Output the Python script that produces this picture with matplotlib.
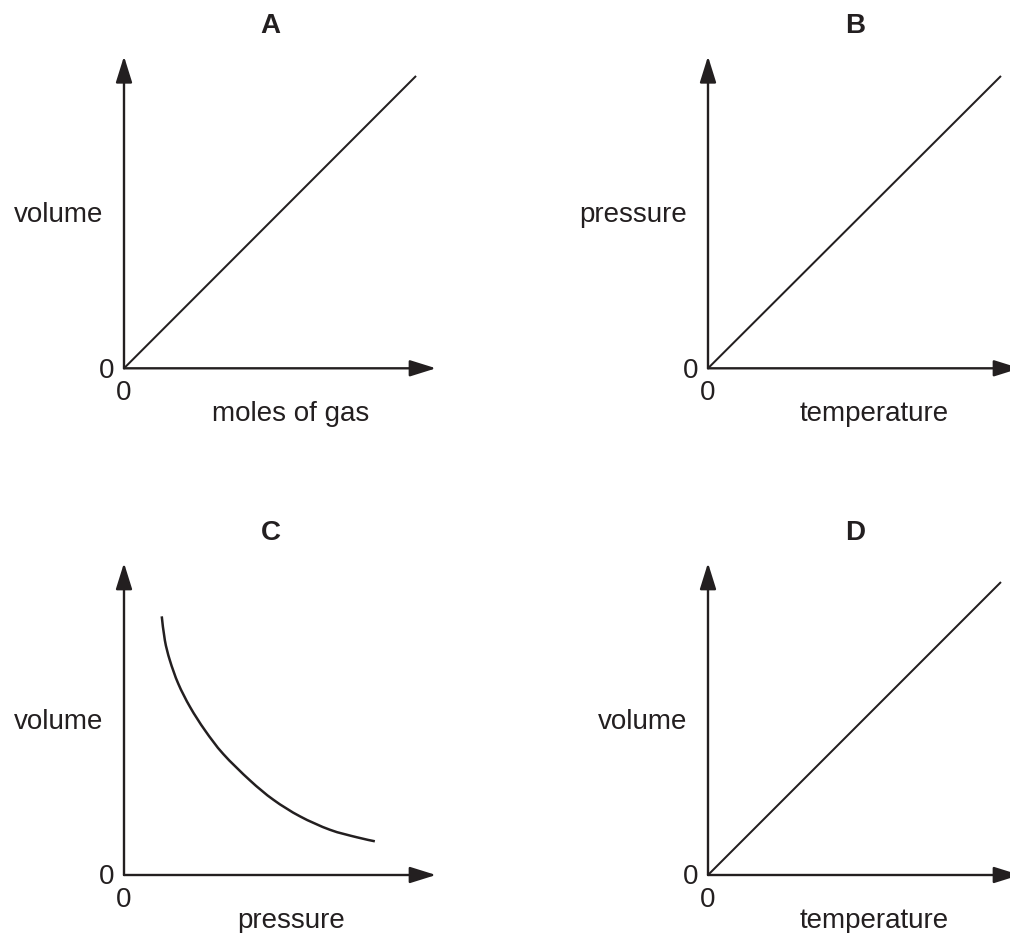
import matplotlib
matplotlib.use("Agg")
import matplotlib.pyplot as plt
from matplotlib.path import Path
from matplotlib.patches import PathPatch

plt.rcParams['font.family'] = ['Liberation Sans', 'DejaVu Sans']

INK = '#231f20'

# ---- data (axis units: 0..10 up to the arrow tips) ----
titles = ['A', 'B', 'C', 'D']
y_labels = ['volume', 'pressure', 'volume', 'volume']
x_labels = ['moles of gas', 'temperature', 'pressure', 'temperature']

a_x = [0.0, 9.36]
a_y = [0.0, 9.37]

b_x = [0.0, 9.39]
b_y = [0.0, 9.37]

c_x = [1.21, 1.31, 1.47, 1.74, 2.12, 2.60, 3.18, 4.04, 4.79, 5.64, 6.60, 7.46, 8.04]
c_y = [8.29, 7.52, 6.88, 6.13, 5.38, 4.63, 3.88, 3.03, 2.41, 1.88, 1.45, 1.21, 1.08]

d_x = [0.0, 9.39]
d_y = [0.0, 9.39]

series = [(a_x, a_y, 1.45, False), (b_x, b_y, 1.45, False),
          (c_x, c_y, 1.8, True), (d_x, d_y, 1.45, False)]


def smooth_path(xs, ys):
    """Catmull-Rom through the given points, expressed as cubic Bezier path."""
    pts = list(zip(xs, ys))
    verts = [pts[0]]
    codes = [Path.MOVETO]
    n = len(pts)
    for k in range(n - 1):
        p0 = pts[k - 1] if k > 0 else pts[k]
        p1 = pts[k]
        p2 = pts[k + 1]
        p3 = pts[k + 2] if k + 2 < n else pts[k + 1]
        c1 = (p1[0] + (p2[0] - p0[0]) / 6.0, p1[1] + (p2[1] - p0[1]) / 6.0)
        c2 = (p2[0] - (p3[0] - p1[0]) / 6.0, p2[1] - (p3[1] - p1[1]) / 6.0)
        verts += [c1, c2, p2]
        codes += [Path.CURVE4] * 3
    return Path(verts, codes)


W, H = 1010, 933
fig = plt.figure(figsize=(W / 100, H / 100), dpi=100)

origins = [(124, 368.3), (708, 368.3), (124, 875), (708, 875)]
size = 312
FS = 20

for i, (ox, oy) in enumerate(origins):
    ax = fig.add_axes([ox / W, (H - oy) / H, size / W, size / H])
    ax.set_xlim(0, 10)
    ax.set_ylim(0, 10)
    ax.axis('off')

    # axes with arrows
    aprops = dict(arrowstyle='-|>,head_length=16,head_width=5',
                  mutation_scale=1, color=INK, lw=1.7,
                  shrinkA=0, shrinkB=0)
    ax.annotate('', xy=(1, 0), xytext=(0, 0), xycoords='axes fraction',
                textcoords='axes fraction', arrowprops=aprops,
                annotation_clip=False)
    ax.annotate('', xy=(0, 1), xytext=(0, 0), xycoords='axes fraction',
                textcoords='axes fraction', arrowprops=aprops,
                annotation_clip=False)

    xs, ys, lw, curved = series[i]
    if curved:
        ax.add_patch(PathPatch(smooth_path(xs, ys), facecolor='none',
                               edgecolor=INK, lw=lw, capstyle='butt',
                               clip_on=False))
    else:
        ax.plot(xs, ys, color=INK, lw=lw, solid_capstyle='butt', clip_on=False)

    tr = ax.transAxes
    ax.text(0.470, 1.075, titles[i], transform=tr, ha='center', va='baseline',
            fontsize=FS, fontweight='bold', color=INK)
    ax.text(-0.066, 0.468, y_labels[i], transform=tr, ha='right', va='baseline',
            fontsize=FS, color=INK)
    ax.text(0.534, -0.170, x_labels[i], transform=tr, ha='center', va='baseline',
            fontsize=FS, color=INK)
    ax.text(-0.055, -0.030, '0', transform=tr, ha='center', va='baseline',
            fontsize=FS, color=INK)
    ax.text(0.0, -0.101, '0', transform=tr, ha='center', va='baseline',
            fontsize=FS, color=INK)

fig.savefig('out.png', dpi=100)
